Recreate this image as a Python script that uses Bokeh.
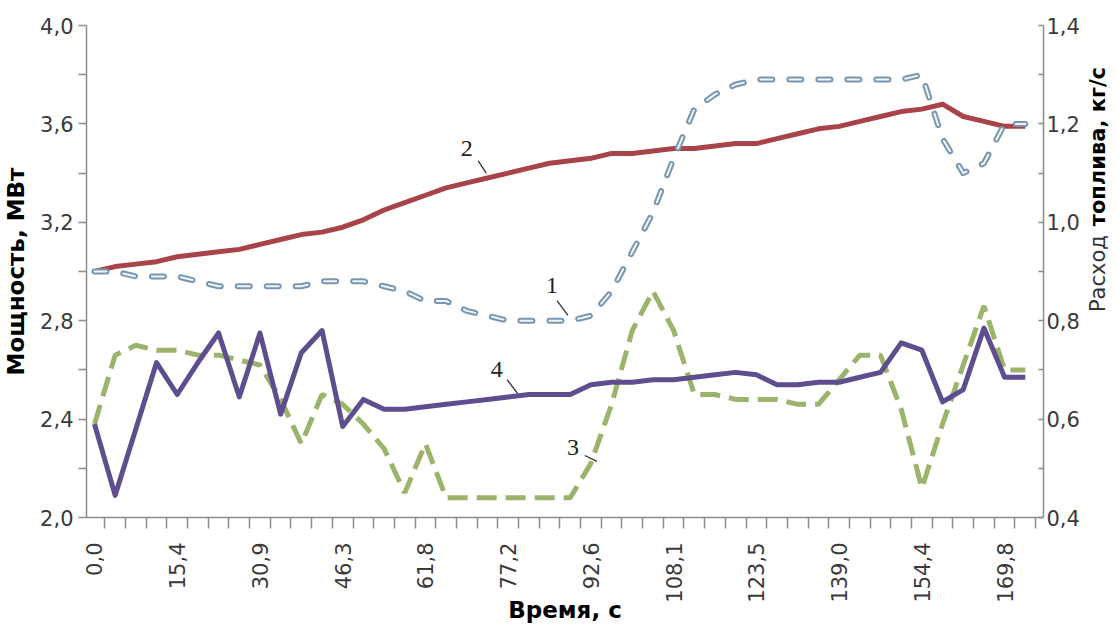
import math
from bokeh.plotting import figure
from bokeh.layouts import row
from bokeh.models import Range1d, LinearAxis, FixedTicker, Label, CustomJSTickFormatter
from bokeh.embed import file_html
from bokeh.resources import INLINE

# ---- data (category index = time step of 3.86 s) ----
categories = list(range(46))
tick_positions = [0, 4, 8, 12, 16, 20, 24, 28, 32, 36, 40, 44]
tick_labels = ["0,0", "15,4", "30,9", "46,3", "61,8", "77,2", "92,6",
               "108,1", "123,5", "139,0", "154,4", "169,8"]

# series 2 (red) - power, MW (left axis)
power_2 = [3.00, 3.02, 3.03, 3.04, 3.06, 3.07, 3.08, 3.09, 3.11, 3.13,
           3.15, 3.16, 3.18, 3.21, 3.25, 3.28, 3.31, 3.34, 3.36, 3.38,
           3.40, 3.42, 3.44, 3.45, 3.46, 3.48, 3.48, 3.49, 3.50, 3.50,
           3.51, 3.52, 3.52, 3.54, 3.56, 3.58, 3.59, 3.61, 3.63, 3.65,
           3.66, 3.68, 3.63, 3.61, 3.59, 3.59]
# series 4 (purple) - power, MW (left axis)
power_4 = [2.38, 2.09, 2.36, 2.63, 2.50, 2.63, 2.75, 2.49, 2.75, 2.42,
           2.67, 2.76, 2.37, 2.48, 2.44, 2.44, 2.45, 2.46, 2.47, 2.48,
           2.49, 2.50, 2.50, 2.50, 2.54, 2.55, 2.55, 2.56, 2.56, 2.57,
           2.58, 2.59, 2.58, 2.54, 2.54, 2.55, 2.55, 2.57, 2.59, 2.71,
           2.68, 2.47, 2.52, 2.77, 2.57, 2.57]
# series 1 (blue dashed) - fuel flow, kg/s (right axis)
fuel_1 = [0.90, 0.90, 0.89, 0.89, 0.89, 0.88, 0.87, 0.87, 0.87, 0.87,
          0.87, 0.88, 0.88, 0.88, 0.87, 0.86, 0.84, 0.84, 0.82, 0.81,
          0.80, 0.80, 0.80, 0.80, 0.81, 0.86, 0.94, 1.02, 1.13, 1.23,
          1.26, 1.28, 1.29, 1.29, 1.29, 1.29, 1.29, 1.29, 1.29, 1.29,
          1.30, 1.17, 1.10, 1.12, 1.20, 1.20]
# series 3 (green dashed) - fuel flow, kg/s (right axis)
fuel_3 = [0.59, 0.73, 0.75, 0.74, 0.74, 0.73, 0.73, 0.72, 0.71, 0.64,
          0.55, 0.65, 0.63, 0.59, 0.54, 0.45, 0.55, 0.44, 0.44, 0.44,
          0.44, 0.44, 0.44, 0.44, 0.51, 0.63, 0.78, 0.86, 0.78, 0.65,
          0.65, 0.64, 0.64, 0.64, 0.63, 0.63, 0.68, 0.73, 0.73, 0.62,
          0.46, 0.59, 0.71, 0.83, 0.70, 0.70]

left_ticks = [2.0, 2.4, 2.8, 3.2, 3.6, 4.0]
left_minor = [2.2, 2.6, 3.0, 3.4, 3.8]
right_ticks = [0.4, 0.6, 0.8, 1.0, 1.2, 1.4]
right_minor = [0.5, 0.7, 0.9, 1.1, 1.3]

FONT = "DejaVu Sans"
AX_COLOR = "#8c8c8c"
LBL_COLOR = "#3a3a3a"

W, H = 1082, 625
p = figure(width=W, height=H, output_backend="svg", toolbar_location=None,
           x_range=Range1d(-0.386, 45.88), y_range=Range1d(2.0, 4.0),
           min_border_left=85, min_border_right=W - 1045, min_border_top=25,
           min_border_bottom=H - 517)
p.extra_y_ranges = {"fuel": Range1d(0.4, 1.4)}
p.grid.visible = False
p.outline_line_color = None
p.background_fill_color = "white"
p.border_fill_color = "white"

comma_fmt = CustomJSTickFormatter(code="return tick.toFixed(1).replace('.', ',');")

# left axis
ya = p.yaxis[0]
ya.ticker = FixedTicker(ticks=left_ticks, minor_ticks=left_minor)
ya.formatter = comma_fmt
ya.axis_line_color = AX_COLOR
ya.axis_line_width = 1.5
ya.major_tick_line_color = AX_COLOR
ya.minor_tick_line_color = AX_COLOR
ya.major_tick_line_width = 1.5
ya.minor_tick_line_width = 1.5
ya.major_tick_in = 0
ya.major_tick_out = 8
ya.minor_tick_in = 0
ya.minor_tick_out = 8
ya.major_label_standoff = 5
ya.major_label_text_align = "right"
ya.major_label_text_font = FONT
ya.major_label_text_font_size = "21px"
ya.major_label_text_color = LBL_COLOR
ya.axis_label = "Мощность, МВт"
ya.axis_label_text_font = FONT
ya.axis_label_text_font_size = "23px"
ya.axis_label_text_font_style = "bold"
ya.axis_label_text_color = "black"
ya.axis_label_standoff = 8

# right axis
ra = LinearAxis(y_range_name="fuel")
ra.ticker = FixedTicker(ticks=right_ticks, minor_ticks=right_minor)
ra.formatter = comma_fmt
ra.axis_line_color = AX_COLOR
ra.axis_line_width = 1.5
ra.major_tick_line_color = AX_COLOR
ra.minor_tick_line_color = AX_COLOR
ra.major_tick_line_width = 1.5
ra.minor_tick_line_width = 1.5
ra.major_tick_in = 5
ra.major_tick_out = 0
ra.minor_tick_in = 5
ra.minor_tick_out = 0
ra.major_label_standoff = 3
ra.major_label_text_font = FONT
ra.major_label_text_font_size = "21px"
ra.major_label_text_color = LBL_COLOR
p.add_layout(ra, "right")

# bottom axis
xa = p.xaxis[0]
xa.ticker = FixedTicker(ticks=tick_positions,
                        minor_ticks=[c - 0.5 for c in categories] + [categories[-1] + 0.5])
xa.major_label_overrides = {k: v for k, v in zip(tick_positions, tick_labels)}
xa.major_label_orientation = math.pi / 2
xa.axis_line_color = AX_COLOR
xa.axis_line_width = 1.5
xa.major_tick_in = 0
xa.major_tick_out = 0
xa.minor_tick_line_color = AX_COLOR
xa.minor_tick_line_width = 1.5
xa.minor_tick_in = 0
xa.minor_tick_out = 11
xa.major_label_standoff = 14
xa.major_label_text_font = FONT
xa.major_label_text_font_size = "21px"
xa.major_label_text_color = LBL_COLOR
xa.axis_label = "Время, с"
xa.axis_label_text_font = FONT
xa.axis_label_text_font_size = "23px"
xa.axis_label_text_font_style = "bold"
xa.axis_label_text_color = "black"
xa.axis_label_standoff = -9

# ---- series ----
p.line(categories, fuel_3, y_range_name="fuel", line_color="#9bb36a",
       line_width=5, line_dash="20 9")
p.line(categories, power_4, line_color="#5f4e8f", line_width=5, line_join="round")
p.line(categories, power_2, line_color="#a8434a", line_width=5, line_join="round")
p.line(categories, fuel_1, y_range_name="fuel", line_color="#7896b0",
       line_width=6, line_dash="12 17", line_cap="round", line_join="round")
p.line(categories, fuel_1, y_range_name="fuel", line_color="#f2f6fa",
       line_width=2, line_dash="12 17", line_cap="round", line_join="round")

# ---- curve number annotations ----
num_font = "Liberation Serif"
ann = [("2", 18.0, 3.50, None), ("1", 22.12, 0.872, "fuel"),
       ("4", 19.45, 2.60, None), ("3", 23.13, 0.542, "fuel")]
for txt, ax, ay, rn in ann:
    kw = dict(x=ax, y=ay, text=txt, text_font=num_font, text_font_size="24px",
              text_align="center", text_baseline="middle", text_color="#222222")
    if rn:
        kw["y_range_name"] = rn
    p.add_layout(Label(**kw))

p.segment(x0=[18.55], y0=[3.45], x1=[18.94], y1=[3.40], line_color="#333333", line_width=1.3)
p.segment(x0=[22.36], y0=[0.841], x1=[22.89], y1=[0.811], y_range_name="fuel",
          line_color="#333333", line_width=1.3)
p.segment(x0=[19.95], y0=[2.56], x1=[20.45], y1=[2.505], line_color="#333333", line_width=1.3)
p.segment(x0=[23.7], y0=[0.526], x1=[24.29], y1=[0.514], y_range_name="fuel",
          line_color="#333333", line_width=1.3)

# ---- right-hand title strip (regular + bold parts) ----
TW = 1117 - W
t = figure(width=TW, height=H, output_backend="svg", toolbar_location=None,
           x_range=Range1d(0, TW), y_range=Range1d(H, 0),
           x_axis_location=None, y_axis_location=None,
           min_border_left=0, min_border_right=0, min_border_top=0, min_border_bottom=0)
t.grid.visible = False
t.outline_line_color = None
t.background_fill_color = "white"
t.border_fill_color = "white"
t.add_layout(Label(x=15, y=364, text="Расход", angle=math.pi / 2,
                   text_font=FONT, text_font_size="21px",
                   text_align="left", text_baseline="middle", text_color="#333333"))
t.add_layout(Label(x=15, y=255, text="топлива, кг/с", angle=math.pi / 2,
                   text_font=FONT, text_font_size="21px", text_font_style="bold",
                   text_align="left", text_baseline="middle", text_color="black"))

layout = row(p, t)
open("out.html", "w").write(file_html(layout, INLINE))
